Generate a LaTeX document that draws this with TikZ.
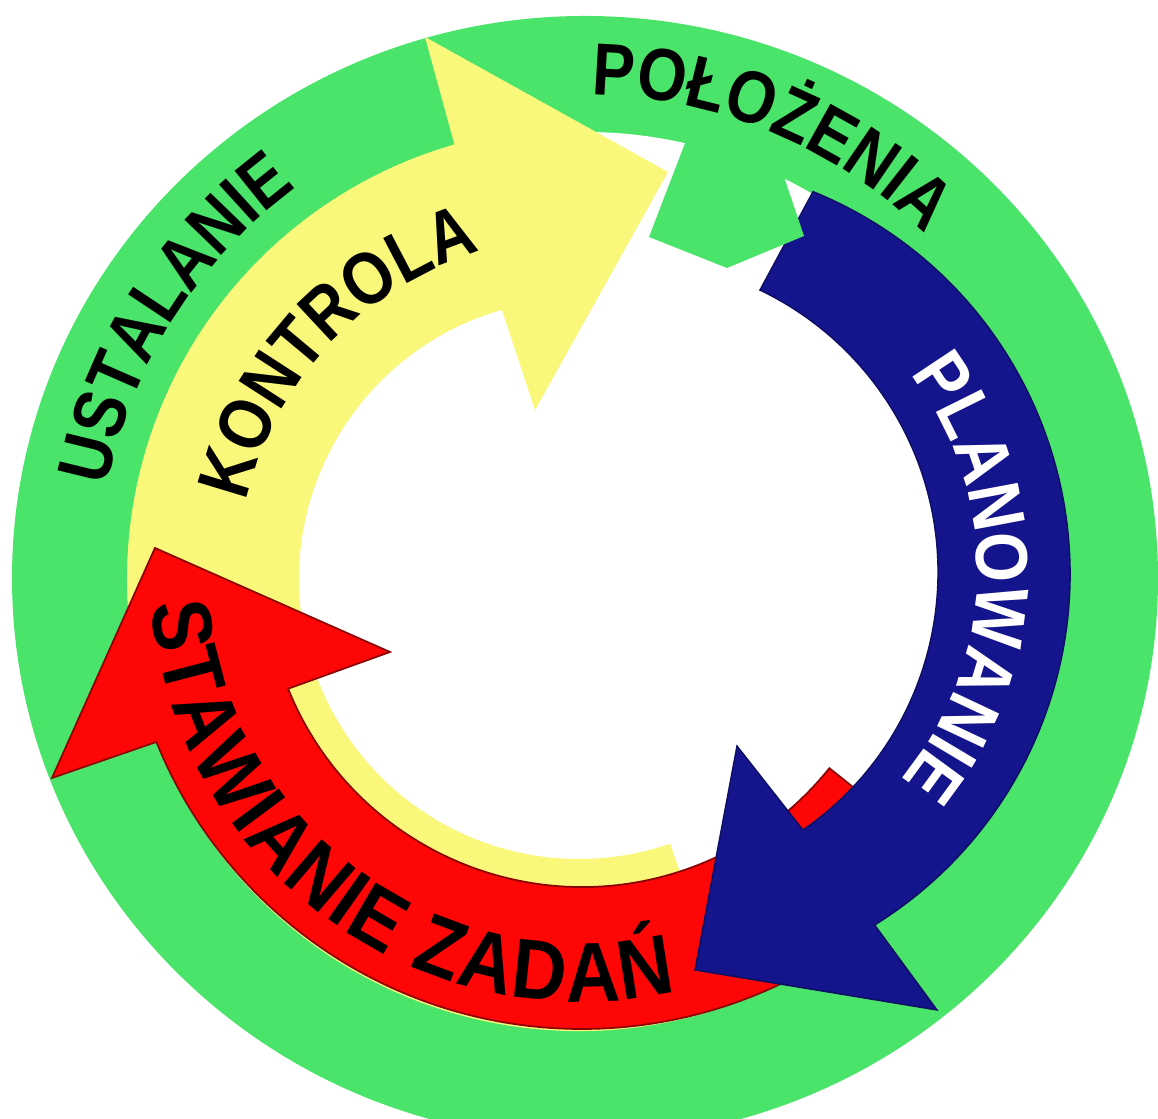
\documentclass[tikz,border=0pt]{standalone}
\usepackage{fontspec}
\setmainfont{Liberation Sans}
\newfontfamily\lblfont[FakeStretch=0.86]{Liberation Sans Bold}
\newfontfamily\lblfontb[FakeStretch=0.87]{Liberation Sans Bold}
\newfontfamily\lblfontc[FakeStretch=0.9]{Liberation Sans Bold}
\newcommand\arclbl{\lblfont\fontsize{21pt}{24pt}\selectfont}
\newcommand\arclblw{\color{white}\lblfontb\fontsize{21pt}{24pt}\selectfont}
\newcommand\arclblr{\lblfontc\fontsize{24pt}{27pt}\selectfont}
\usetikzlibrary{calc,decorations.text}
\definecolor{ringgreen}{RGB}{74,228,106}
\definecolor{arrowyellow}{RGB}{250,248,122}
\definecolor{arrowred}{RGB}{255,6,6}
\definecolor{arrowblue}{RGB}{20,20,140}
\tikzset{
  arclabel/.style={decorate, decoration={text along path, text align=fit to path, text={#1}}},
  rededge/.style={draw=arrowred!55!black, line width=0.5pt},
  blueedge/.style={draw=arrowblue!70!black, line width=0.4pt}
}
\begin{document}
\begin{tikzpicture}[x=0.01cm,y=0.01cm]
\useasboundingbox (0,0) rectangle (1158,1119);
\clip (0,0) rectangle (1158,1119);
\coordinate (Cg) at (585,541);
\coordinate (C) at (585,539);
\coordinate (Cy) at (579,540);
\coordinate (Cr) at (582,549);
\coordinate (Cb) at (657,545);
\coordinate (Cbi) at (625,546.5);
\coordinate (Cpt) at (652,548);
% green ring
\fill[ringgreen] (Cg) ellipse [x radius=573, y radius=562];
\fill[white] (C) circle [radius=448];
% yellow arrow (KONTROLA)
\fill[arrowyellow] ($(Cy)+(-71:452)$) arc[start angle=-71, end angle=-254, radius=452]
  -- (425,1082) -- (668,947) -- (535,709)
  -- ($(Cy)+(106:280)$) arc[start angle=106, end angle=289, radius=280] -- cycle;
% red arrow (STAWIANIE ZADAN)
\filldraw[fill=arrowred, rededge] ($(Cr)+(-38.7:459)$) arc[start angle=-38.7, end angle=-158, radius=459]
  -- (52,341) -- (155,571) -- (390,467)
  -- ($(Cr)+(-158:317)$) arc[start angle=-158, end angle=-38.7, radius=317] -- cycle;
% blue arrow (PLANOWANIE)
\filldraw[fill=arrowblue, blueedge] ($(Cb)+(67.8:413)$) arc[start angle=67.8, end angle=-58.2, radius=413]
  -- (937,109) -- (695,149) -- (737,373)
  -- ($(Cbi)+(-55.35:313)$) arc[start angle=-55.35, end angle=64.46, radius=313] -- cycle;
% green arrow head
\fill[ringgreen] (687,981) -- (649,882) -- (727,851) -- (804,883) -- (782,948) -- cycle;
% labels
\path[arclabel={|\arclbl|USTALANIE}] ($(C)+(169:487)$) arc[start angle=169, end angle=127.5, radius=487];
\path[arclabel={|\arclbl|POŁOŻENIA}] ($(C)+(89.2:485)$) arc[start angle=89.2, end angle=45.6, radius=485];
\path[arclabel={|\arclbl|KONTROLA}] ($(Cy)+(167:342)$) arc[start angle=167, end angle=107.2, radius=342];
\path[arclabel={|\arclblw|PLANOWANIE}] ($(Cpt)+(37.4:325)$) arc[start angle=37.4, end angle=-40, radius=325];
\path[arclabel={|\arclblr|STAWIANIE ZADAŃ}] ($(Cr)+(184.6:432)$) arc[start angle=184.6, end angle=282.7, radius=432];
\end{tikzpicture}
\end{document}
